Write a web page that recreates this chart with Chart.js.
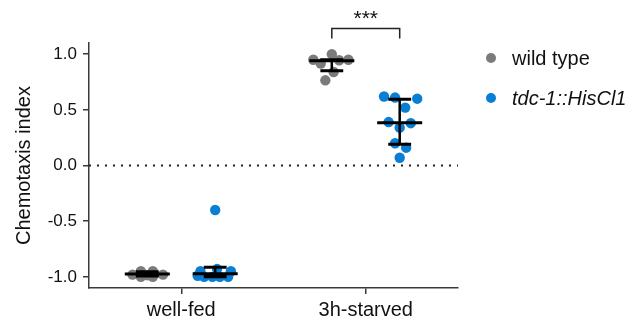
<!DOCTYPE html>
<html>
<head>
<meta charset="utf-8">
<script src="https://cdn.jsdelivr.net/npm/chart.js@4.4.1/dist/chart.umd.min.js"></script>
<style>
  html, body { margin: 0; padding: 0; background: #fff; }
  #wrap { width: 639px; height: 326px; }
</style>
</head>
<body>
<div id="wrap"><canvas id="myChart" width="639" height="326"></canvas></div>
<script>
// Categories on the x axis
const categories = ['well-fed', '3h-starved']
const seriesNames = ['wild type', 'tdc-1::HisCl1']

// Individual assays (chemotaxis index) and their horizontal swarm offset
const wtFed = [-0.95, -0.95, -0.98, -0.98, -1.0, -1.0, -0.985]
const wtFedJitter = [-0.035, 0.03, -0.08, 0.085, -0.035, 0.03, 0]
const wtStarved = [1.0, 0.95, 0.95, 0.945, 0.915, 0.84, 0.765]
const wtStarvedJitter = [0, -0.1, 0.09, 0.04, -0.06, 0.01, -0.035]

const hisFed = [-0.40, -0.93, -0.95, -0.95, -1.0, -1.0, -1.0, -1.0, -0.99]
const hisFedJitter = [0, 0.01, -0.08, 0.085, -0.06, -0.015, 0.025, 0.07, -0.095]
const hisStarved = [0.62, 0.61, 0.60, 0.52, 0.39, 0.34, 0.38, 0.20, 0.16, 0.07]
const hisStarvedJitter = [-0.085, -0.025, 0.095, 0.03, -0.06, 0, 0.06, -0.025, 0.035, 0]

// median and interquartile range per category
const wtMedian = [-0.975, 0.94]
const wtQ1 = [-0.992, 0.85]
const wtQ3 = [-0.955, 0.95]
const hisMedian = [-0.972, 0.385]
const hisQ1 = [-1.0, 0.19]
const hisQ3 = [-0.913, 0.595]

const yTicks = [-1.0, -0.5, 0.0, 0.5, 1.0]
const sigLabel = '***'

const GRAY = '#7b7b7b'
const BLUE = '#0a7ed3'
const AXIS = '#3a3a3a'
const FONT = "'Liberation Sans', Arial, sans-serif"
const shift = 0.184

function toPoints(values, jitter, center) {
    return values.map((v, i) => ({ x: center + jitter[i], y: v }))
}

const wtData = toPoints(wtFed, wtFedJitter, 1 - shift).concat(toPoints(wtStarved, wtStarvedJitter, 2 - shift))
const hisData = toPoints(hisFed, hisFedJitter, 1 + shift).concat(toPoints(hisStarved, hisStarvedJitter, 2 + shift))

// median line + IQR whiskers drawn on top of the dots
const summaryPlugin = {
    id: 'summary',
    afterDatasetsDraw(chart) {
        const ctx = chart.ctx
        const xs = chart.scales.x
        const ys = chart.scales.y
        const groups = [
            { off: -shift, med: wtMedian, q1: wtQ1, q3: wtQ3 },
            { off: shift, med: hisMedian, q1: hisQ1, q3: hisQ3 }
        ]
        ctx.save()
        ctx.strokeStyle = '#000'
        groups.forEach(g => {
            categories.forEach((c, i) => {
                const cx = xs.getPixelForValue(i + 1 + g.off)
                const wide = xs.getPixelForValue(i + 1 + g.off + 0.122) - cx
                const cap = xs.getPixelForValue(i + 1 + g.off + 0.062) - cx
                const yMed = ys.getPixelForValue(g.med[i])
                const yLo = ys.getPixelForValue(g.q1[i])
                const yHi = ys.getPixelForValue(g.q3[i])
                ctx.lineWidth = 2.5
                ctx.beginPath()
                ctx.moveTo(cx, yLo)
                ctx.lineTo(cx, yHi)
                ctx.stroke()
                ctx.lineWidth = 3
                ctx.beginPath()
                ctx.moveTo(cx - cap, yLo); ctx.lineTo(cx + cap, yLo)
                ctx.moveTo(cx - cap, yHi); ctx.lineTo(cx + cap, yHi)
                ctx.moveTo(cx - wide, yMed); ctx.lineTo(cx + wide, yMed)
                ctx.stroke()
            })
        })

        // significance bracket between the starved groups
        const x1 = xs.getPixelForValue(2 - shift)
        const x2 = xs.getPixelForValue(2 + shift)
        const yTop = ys.getPixelForValue(1.23)
        const yEnd = ys.getPixelForValue(1.14)
        ctx.lineWidth = 1.5
        ctx.strokeStyle = '#222'
        ctx.beginPath()
        ctx.moveTo(x1, yEnd)
        ctx.lineTo(x1, yTop)
        ctx.lineTo(x2, yTop)
        ctx.lineTo(x2, yEnd)
        ctx.stroke()
        ctx.fillStyle = '#111'
        ctx.font = '21px ' + FONT
        ctx.textAlign = 'center'
        ctx.textBaseline = 'middle'
        ctx.fillText(sigLabel, (x1 + x2) / 2, yTop - 9)

        // legend
        const area = chart.chartArea
        const lx = area.right + 33
        const colors = [GRAY, BLUE]
        seriesNames.forEach((name, i) => {
            const ly = area.top + 15 + i * 40
            ctx.fillStyle = colors[i]
            ctx.beginPath()
            ctx.arc(lx, ly, 5, 0, Math.PI * 2)
            ctx.fill()
            ctx.fillStyle = '#111'
            ctx.font = (i === 1 ? 'italic ' : '') + '20px ' + FONT
            ctx.textAlign = 'left'
            ctx.fillText(name, lx + 21, ly + 1)
        })
        ctx.restore()
    }
}

const ctx = document.getElementById('myChart').getContext('2d')
const myChart = new Chart(ctx, {
    type: 'scatter',
    data: {
        datasets: [{
            type: 'line',
            label: 'zero',
            data: [{ x: 0.5, y: 0 }, { x: 2.5, y: 0 }],
            borderColor: '#222',
            borderWidth: 2,
            borderDash: [2, 6],
            pointRadius: 0
        }, {
            label: seriesNames[0],
            data: wtData,
            backgroundColor: GRAY,
            borderWidth: 0,
            pointRadius: 5.2
        }, {
            label: seriesNames[1],
            data: hisData,
            backgroundColor: BLUE,
            borderWidth: 0,
            pointRadius: 5.2
        }]
    },
    options: {
        responsive: false,
        animation: false,
        events: [],
        layout: { padding: { top: 43, right: 181, bottom: 0, left: 0 } },
        plugins: { legend: { display: false }, tooltip: { enabled: false } },
        scales: {
            x: {
                type: 'linear',
                min: 0.5,
                max: 2.5,
                afterBuildTicks: axis => { axis.ticks = categories.map((c, i) => ({ value: i + 1 })) },
                afterFit: axis => { axis.height = 38 },
                ticks: {
                    callback: v => categories[Math.round(v) - 1],
                    color: '#111',
                    font: { family: FONT, size: 20 },
                    padding: 4,
                    maxRotation: 0
                },
                grid: { drawOnChartArea: false, drawTicks: true, tickLength: 6, color: AXIS, lineWidth: 1.5 },
                border: { display: true, color: AXIS, width: 1.5 }
            },
            y: {
                min: -1.1,
                max: 1.1,
                afterBuildTicks: axis => { axis.ticks = yTicks.map(v => ({ value: v })) },
                afterFit: axis => { axis.width = 89 },
                ticks: {
                    callback: v => v.toFixed(1),
                    color: '#111',
                    font: { family: FONT, size: 17 },
                    padding: 6
                },
                title: {
                    display: true,
                    text: 'Chemotaxis index',
                    color: '#111',
                    font: { family: FONT, size: 20 },
                    padding: { top: 12, bottom: 0 }
                },
                grid: { drawOnChartArea: false, drawTicks: true, tickLength: 6, color: AXIS, lineWidth: 1.5 },
                border: { display: true, color: AXIS, width: 1.5 }
            }
        }
    },
    plugins: [summaryPlugin]
})
</script>
</body>
</html>
